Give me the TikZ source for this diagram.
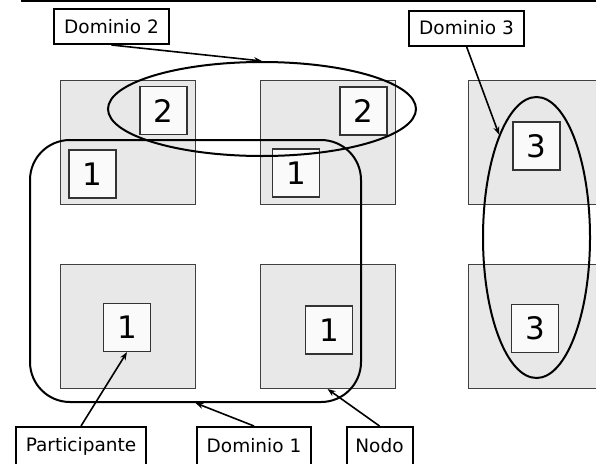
\documentclass[tikz,border=0pt]{standalone}
\usepackage{fontspec}
\setmainfont{DejaVu Sans}
\usetikzlibrary{shapes.geometric,arrows.meta}
\begin{document}
\begin{tikzpicture}[x=1pt,y=-1pt,
  nodebox/.style={draw=black!75,line width=1pt,fill=black!9,minimum width=135pt,minimum height=124pt,inner sep=0pt},
  partbox/.style={draw=black!80,line width=1.3pt,fill=black!2,minimum width=47pt,minimum height=48pt,inner sep=0pt,font=\fontsize{31}{31}\selectfont},
  labelbox/.style={draw=black,line width=2pt,fill=white,minimum height=35pt,inner sep=0pt,font=\fontsize{18.5}{20}\selectfont},
  domline/.style={draw=black,line width=2pt},
  pointer/.style={line width=1.6pt,-{Stealth[length=8pt,width=6pt]}}]
\useasboundingbox (0,0) rectangle (596,463);
\fill[white] (0,0) rectangle (596,463);
\coordinate (tl) at (21,0.8);
\coordinate (tr) at (596,0.8);
\draw[line width=2pt] (tl) -- (tr);
% nodes (gray boxes)
\node[nodebox] (n1) at (127.5,142) {};
\node[nodebox] (n2) at (327.5,142) {};
\node[nodebox] (n3) at (535.5,142) {};
\node[nodebox] (n4) at (127.5,326.5) {};
\node[nodebox] (n5) at (327.5,326.5) {};
\node[nodebox] (n6) at (535.5,326.5) {};
% participants
\node[partbox] (p1) at (163.5,110.5) {2};
\node[partbox] (p2) at (92.5,174) {1};
\node[partbox] (p3) at (363.5,111) {2};
\node[partbox] (p4) at (296,173) {1};
\node[partbox] (p5) at (536.5,146) {3};
\node[partbox] (p6) at (127,327.5) {1};
\node[partbox] (p7) at (329,330) {1};
\node[partbox] (p8) at (535,328.5) {3};
% domains
\node[domline,ellipse,minimum width=308pt,minimum height=94pt,inner sep=0pt] (e2) at (262,109) {};
\node[domline,ellipse,minimum width=107pt,minimum height=281pt,inner sep=0pt] (e3) at (536.5,237.5) {};
\node[domline,rounded corners=40pt,minimum width=331pt,minimum height=262pt,inner sep=0pt] (dom1) at (195.5,271) {};
% labels
\node[labelbox,minimum width=115pt] (ld2) at (111.5,26.5) {Dominio 2};
\node[labelbox,minimum width=115pt] (ld3) at (466.5,28) {Dominio 3};
\node[labelbox,minimum width=130pt,minimum height=38pt] (lp) at (81,446) {Participante};
\node[labelbox,minimum width=114pt,minimum height=38pt] (ld1) at (254,446) {Dominio 1};
\node[labelbox,minimum width=66pt,minimum height=38pt] (ln) at (379.5,446) {Nodo};
% pointers
\draw[pointer] (ld2.south) -- (e2.north);
\draw[pointer] (ld3.south) -- (e3.110);
\draw[pointer] (lp.north) -- (p6.south);
\draw[pointer] (ld1.north) -- (dom1.south);
\draw[pointer] (ln.north) -- (n5.south);
\end{tikzpicture}
\end{document}
